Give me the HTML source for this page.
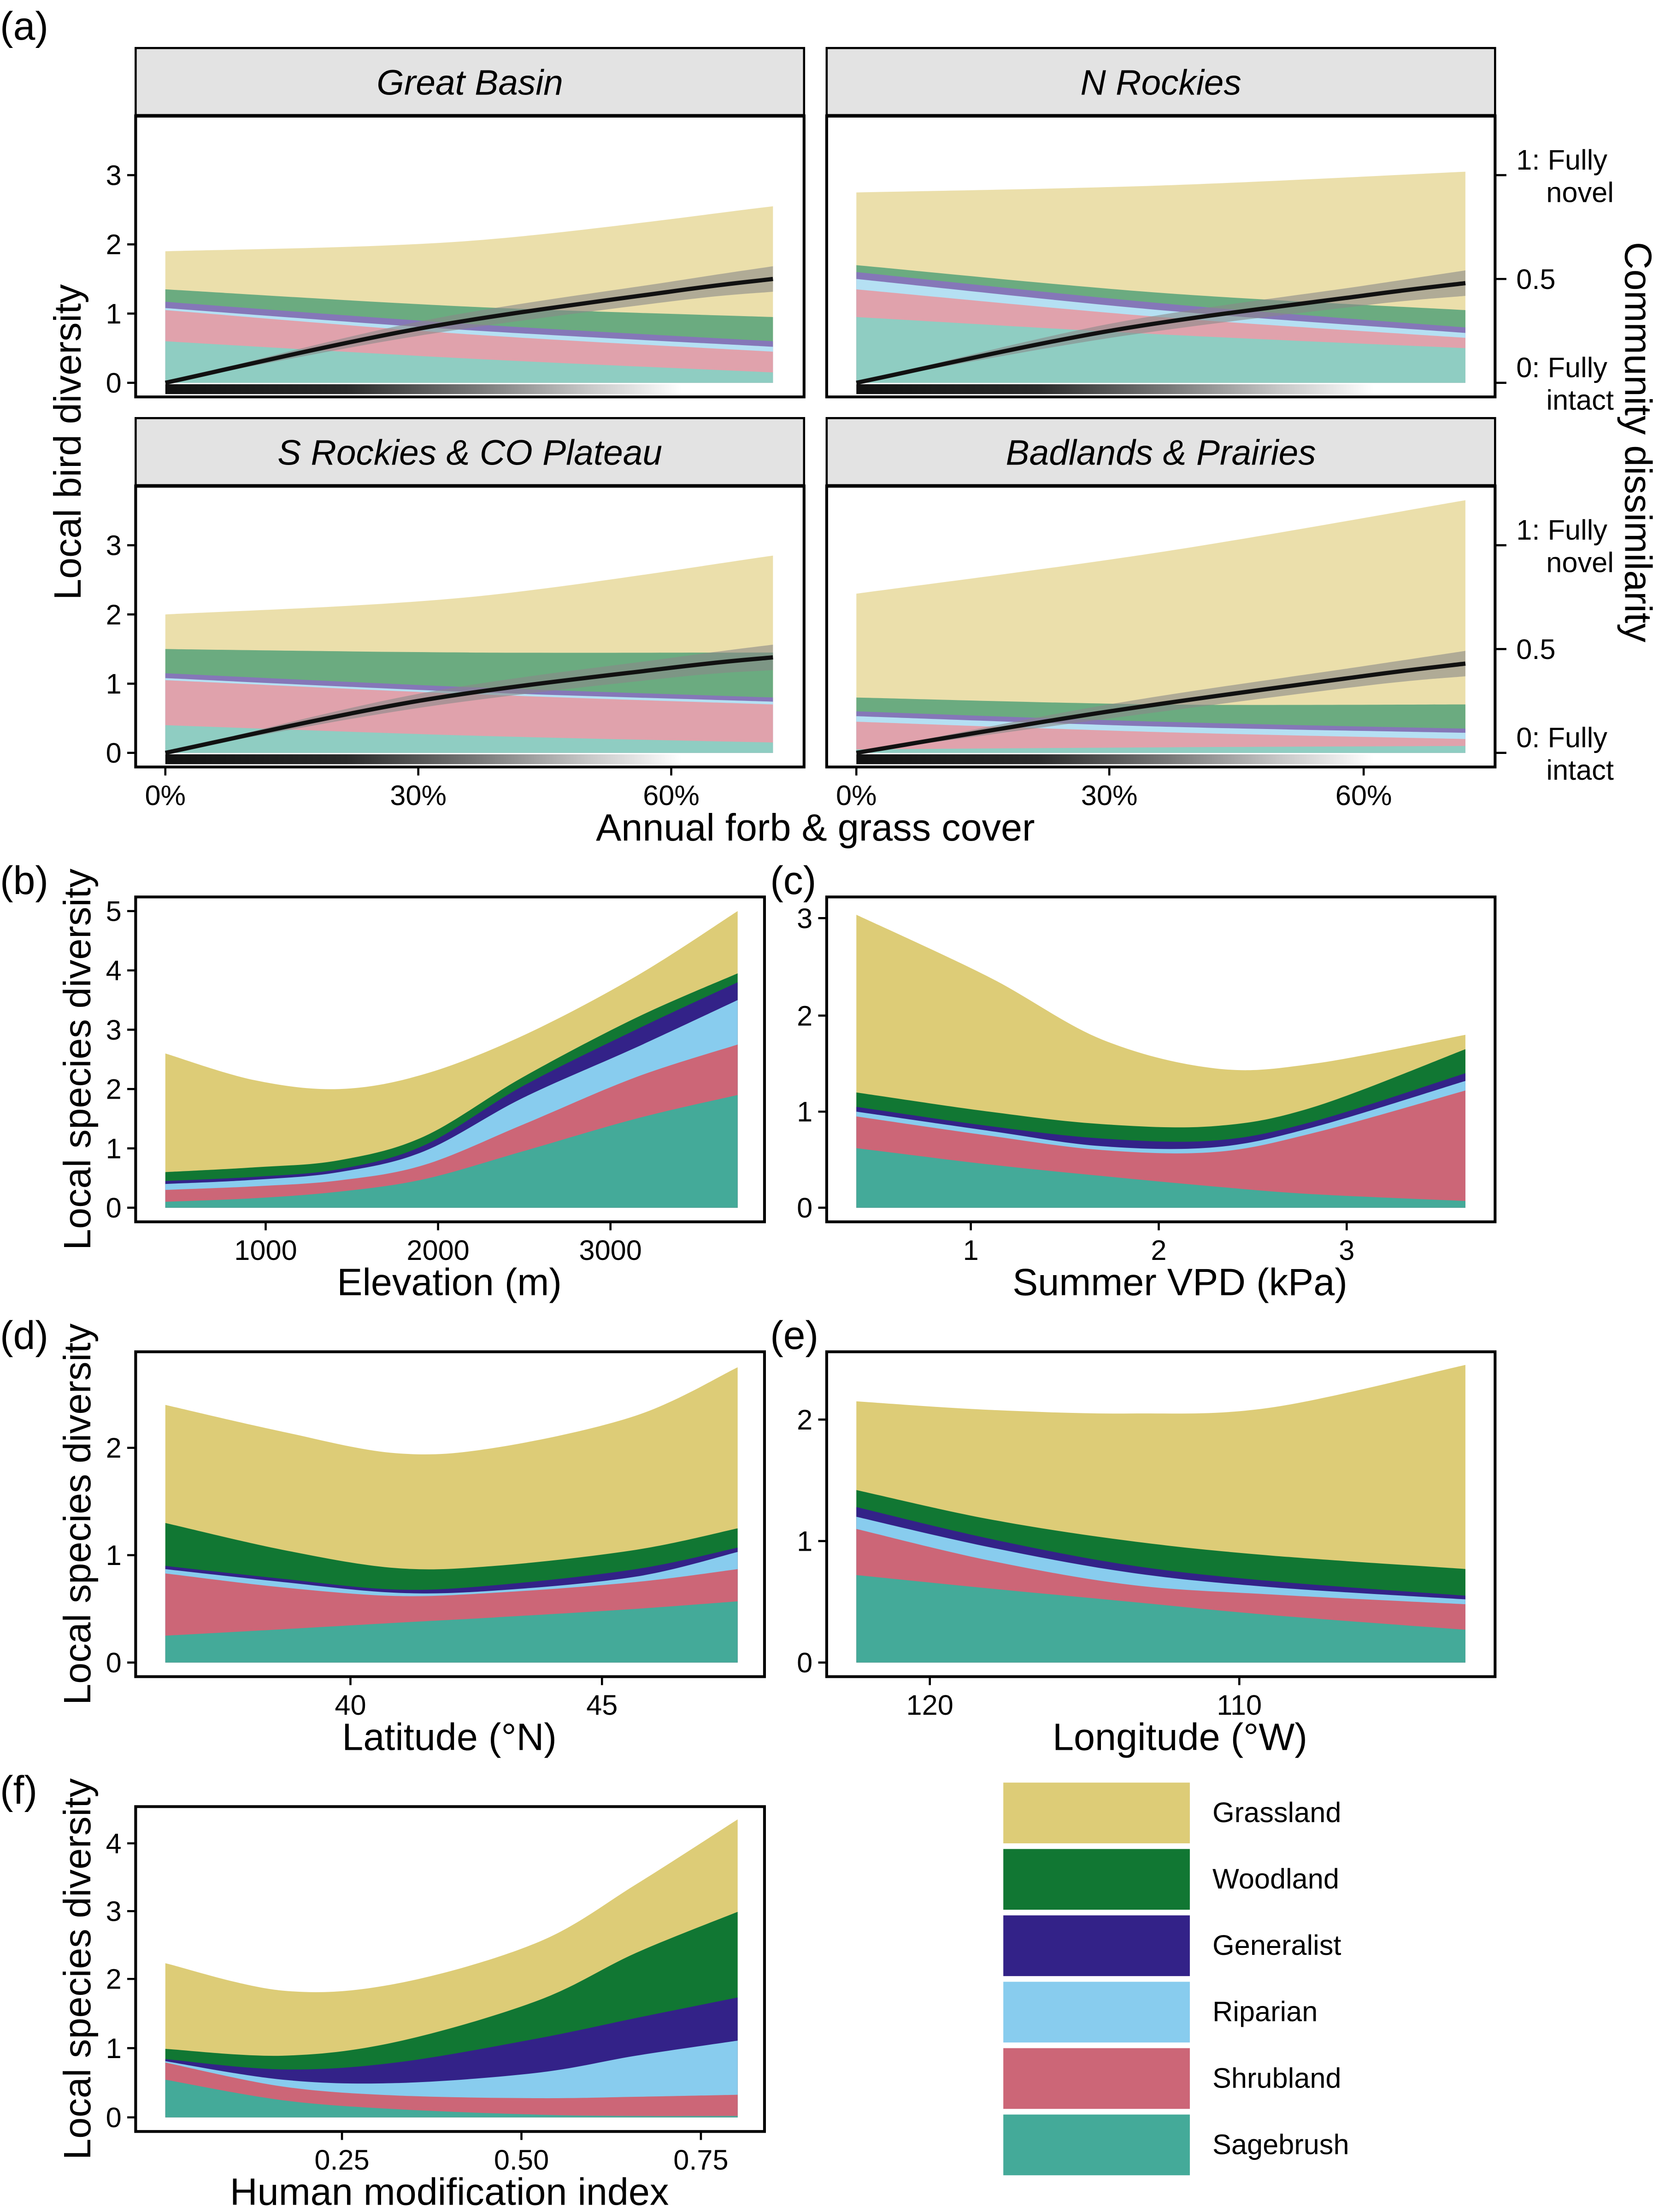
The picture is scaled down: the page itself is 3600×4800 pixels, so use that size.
<!DOCTYPE html>
<html><head><meta charset="utf-8">
<style>html,body{margin:0;padding:0;background:#fff}svg{display:block}
text{font-family:"Liberation Sans",Arial,sans-serif;fill:#000}</style></head>
<body>
<svg id="s" xmlns="http://www.w3.org/2000/svg" width="3600" height="4800" viewBox="0 0 1174 1566" preserveAspectRatio="none">
<defs>
<linearGradient id="rug" x1="0" x2="1" y1="0" y2="0">
<stop offset="0" stop-color="#111"/><stop offset="0.35" stop-color="#2a2a2a"/><stop offset="0.6" stop-color="#777"/><stop offset="0.82" stop-color="#c8c8c8"/><stop offset="1" stop-color="#fff"/></linearGradient>
</defs>
<g id="g"></g>
</svg>
<script>
var g=document.getElementById('g'),NS='http://www.w3.org/2000/svg';
function el(t,a,txt){var e=document.createElementNS(NS,t);for(var k in a)e.setAttribute(k,a[k]);if(txt!==undefined)e.textContent=txt;g.appendChild(e);return e;}
function cr(p){var d='M'+p[0][0]+','+p[0][1];for(var i=0;i<p.length-1;i++){var p0=p[Math.max(i-1,0)],p1=p[i],p2=p[i+1],p3=p[Math.min(i+2,p.length-1)];
d+=' C'+(p1[0]+(p2[0]-p0[0])/6)+','+(p1[1]+(p2[1]-p0[1])/6)+' '+(p2[0]-(p3[0]-p1[0])/6)+','+(p2[1]-(p3[1]-p1[1])/6)+' '+p2[0]+','+p2[1];}return d;}
var FULL=['#DDCC77','#117733','#332288','#88CCEE','#CC6677','#44AA99'];
var LIGHT=['#ebdfab','#6bab80','#8577b8','#b5e0f3','#e0a2ac','#8fcdc2'];
function stack(xs,y0,k,series,cols){
 for(var s=0;s<series.length;s++){var pts=xs.map(function(x,i){return [x,y0-series[s][i]*k];});
  var d=cr(pts)+' L'+xs[xs.length-1]+','+y0+' L'+xs[0]+','+y0+' Z';el('path',{d:d,fill:cols[s]});}}
function box(x1,y1,x2,y2){el('rect',{x:x1,y:y1,width:x2-x1,height:y2-y1,fill:'none',stroke:'#000','stroke-width':2});}
function yt(x,ys,labs,fs){for(var i=0;i<ys.length;i++){el('line',{x1:x-6,x2:x,y1:ys[i],y2:ys[i],stroke:'#000','stroke-width':1.5});el('text',{x:x-10,y:ys[i]+7,'font-size':fs||20,'text-anchor':'end'},labs[i]);}}
function xt(y,xs,labs){for(var i=0;i<xs.length;i++){el('line',{x1:xs[i],x2:xs[i],y1:y,y2:y+6,stroke:'#000','stroke-width':1.5});el('text',{x:xs[i],y:y+27,'font-size':20,'text-anchor':'middle'},labs[i]);}}
function vtitle(x,y,t,fs){el('text',{x:x,y:y,'font-size':fs||27,'text-anchor':'middle',transform:'rotate(-90 '+x+' '+y+')'},t);}
function apanel(x1,y1,x2,y2,name,xs,ser,blk){
 el('rect',{x:x1,y:y1-48,width:x2-x1,height:48,fill:'#e3e3e3',stroke:'#000','stroke-width':1.5});
 el('text',{x:(x1+x2)/2,y:y1-15,'font-size':25,'font-style':'italic','text-anchor':'middle'},name);
 var y0=y2-10;
 stack(xs,y0,49,ser,LIGHT);
 el('rect',{x:xs[0],y:y0+1,width:(xs[2]-xs[0])*0.85,height:7,fill:'url(#rug)'});
 var bx=[xs[0],xs[0]+(xs[2]-xs[0])*0.416,xs[0]+(xs[2]-xs[0])*0.833,xs[2]];
 var up=bx.map(function(x,i){return [x,y0-blk[i]*147-(i?3+i*2:0)];}),dn=bx.map(function(x,i){return [x,y0-blk[i]*147+(i?3+i*2:0)];});
 el('path',{d:cr(up)+' L'+dn[3][0]+','+dn[3][1]+' '+cr(dn.slice().reverse()).replace('M',' L')+' Z',fill:'#888',opacity:0.6});
 el('path',{d:cr(bx.map(function(x,i){return [x,y0-blk[i]*147];})),fill:'none',stroke:'#111','stroke-width':3});
 el('line',{x1:x1,x2:x2,y1:y1,y2:y1,stroke:'#000','stroke-width':2.5});
 box(x1,y1,x2,y2);
}
apanel(96,82,569,281,'Great Basin',[117,332,547],[[1.9,2.05,2.55],[1.35,1.1,0.95],[1.17,0.85,0.6],[1.08,0.76,0.52],[1.05,0.7,0.45],[0.6,0.35,0.15]],[0,0.26,0.44,0.5]);
apanel(585,82,1058,281,'N Rockies',[606,821,1037],[[2.75,2.85,3.05],[1.7,1.3,1.05],[1.6,1.15,0.8],[1.5,1.05,0.72],[1.35,0.95,0.65],[0.95,0.7,0.5]],[0,0.25,0.42,0.48]);
apanel(96,344,569,543,'S Rockies & CO Plateau',[117,332,547],[[2.0,2.25,2.85],[1.5,1.45,1.45],[1.15,0.95,0.8],[1.08,0.88,0.74],[1.05,0.85,0.7],[0.4,0.25,0.15]],[0,0.25,0.41,0.46]);
apanel(585,344,1058,543,'Badlands & Prairies',[606,821,1037],[[2.3,2.9,3.65],[0.8,0.7,0.7],[0.6,0.45,0.35],[0.53,0.38,0.29],[0.45,0.3,0.2],[0.05,0.08,0.1]],[0,0.2,0.37,0.43]);
yt(96,[271,222,173,124],['0','1','2','3']);yt(96,[533,484,435,386],['0','1','2','3']);
xt(543,[117,296,475],['0%','30%','60%']);xt(543,[606,785,965],['0%','30%','60%']);
[[271,124],[533,386]].forEach(function(r){var a=r[0],b=r[1];
 [a,(a+b)/2,b].forEach(function(y){el('line',{x1:1058,x2:1066,y1:y,y2:y,stroke:'#000','stroke-width':1.5});});
 el('text',{x:1073,y:b-4,'font-size':20},'1: Fully');el('text',{x:1142,y:b+19,'font-size':20,'text-anchor':'end'},'novel');
 el('text',{x:1073,y:(a+b)/2+7,'font-size':20},'0.5');
 el('text',{x:1073,y:a-4,'font-size':20},'0: Fully');el('text',{x:1142,y:a+19,'font-size':20,'text-anchor':'end'},'intact');});
vtitle(57,313,'Local bird diversity');
el('text',{x:1150,y:313,'font-size':27,'text-anchor':'middle',transform:'rotate(90 1150 313)'},'Community dissimilarity');
el('text',{x:577,y:595,'font-size':27,'text-anchor':'middle'},'Annual forb & grass cover');
el('text',{x:0,y:28,'font-size':28},'(a)');
stack([117,180,240,300,370,450,522],855,42,[[2.6,2.15,2.0,2.25,2.9,3.9,5.0],[0.6,0.68,0.8,1.2,2.2,3.2,3.95],[0.45,0.52,0.65,1.05,2.05,3.0,3.8],[0.4,0.47,0.6,0.95,1.85,2.7,3.5],[0.3,0.36,0.46,0.72,1.4,2.2,2.75],[0.1,0.16,0.27,0.48,0.95,1.5,1.9]],FULL);
box(96,635,541,865);yt(96,[855,813,771,729,687,645],['0','1','2','3','4','5']);xt(865,[188,310,432],['1000','2000','3000']);
el('text',{x:318,y:917,'font-size':27,'text-anchor':'middle'},'Elevation (m)');el('text',{x:0,y:633,'font-size':28},'(b)');
vtitle(64,750,'Local species diversity');
stack([606,700,780,860,930,1037],855,68,[[3.05,2.4,1.75,1.45,1.5,1.8],[1.2,1.0,0.87,0.85,1.05,1.65],[1.05,0.85,0.72,0.7,0.9,1.4],[1.0,0.8,0.64,0.63,0.84,1.32],[0.95,0.75,0.6,0.58,0.78,1.22],[0.62,0.45,0.33,0.22,0.14,0.07]],FULL);
box(585,635,1058,865);yt(585,[855,787,719,650],['0','1','2','3']);xt(865,[687,820,953],['1','2','3']);
el('text',{x:835,y:917,'font-size':27,'text-anchor':'middle'},'Summer VPD (kPa)');el('text',{x:545,y:633,'font-size':28},'(c)');
stack([117,200,280,350,450,522],1177,76,[[2.4,2.15,1.95,2.0,2.3,2.75],[1.3,1.05,0.88,0.9,1.05,1.25],[0.9,0.78,0.68,0.72,0.87,1.07],[0.87,0.75,0.65,0.67,0.8,1.03],[0.83,0.7,0.62,0.65,0.75,0.87],[0.25,0.31,0.37,0.42,0.5,0.57]],FULL);
box(96,957,541,1187);yt(96,[1177,1101,1025],['0','1','2']);xt(1187,[248,426],['40','45']);
el('text',{x:318,y:1239,'font-size':27,'text-anchor':'middle'},'Latitude (°N)');el('text',{x:0,y:955,'font-size':28},'(d)');
vtitle(64,1072,'Local species diversity');
stack([606,700,800,900,1037],1177,86,[[2.15,2.08,2.05,2.1,2.45],[1.42,1.18,1.0,0.88,0.77],[1.28,1.02,0.8,0.67,0.55],[1.2,0.95,0.74,0.62,0.52],[1.1,0.84,0.64,0.56,0.48],[0.72,0.61,0.5,0.39,0.27]],FULL);
box(585,957,1058,1187);yt(585,[1177,1091,1005],['0','1','2']);xt(1187,[658,877],['120','110']);
el('text',{x:835,y:1239,'font-size':27,'text-anchor':'middle'},'Longitude (°W)');el('text',{x:545,y:955,'font-size':28},'(e)');
stack([117,200,280,380,450,522],1499,48.5,[[2.25,1.85,1.95,2.55,3.4,4.35],[1.0,0.9,1.1,1.7,2.4,3.0],[0.85,0.7,0.8,1.15,1.45,1.75],[0.82,0.55,0.5,0.65,0.9,1.12],[0.8,0.45,0.32,0.28,0.3,0.33],[0.55,0.25,0.12,0.04,0.02,0.02]],FULL);
box(96,1279,541,1509);yt(96,[1499,1450,1401,1353,1305],['0','1','2','3','4']);xt(1509,[242,369,496],['0.25','0.50','0.75']);
el('text',{x:318,y:1561,'font-size':27,'text-anchor':'middle'},'Human modification index');el('text',{x:0,y:1277,'font-size':28},'(f)');
vtitle(64,1394,'Local species diversity');
var L=['Grassland','Woodland','Generalist','Riparian','Shrubland','Sagebrush'],LY=[1262,1309,1356,1403,1450,1497];
for(var i=0;i<6;i++){el('rect',{x:710,y:LY[i],width:132,height:43,fill:FULL[i]});el('text',{x:858,y:LY[i]+28,'font-size':20},L[i]);}
</script>
</body></html>
